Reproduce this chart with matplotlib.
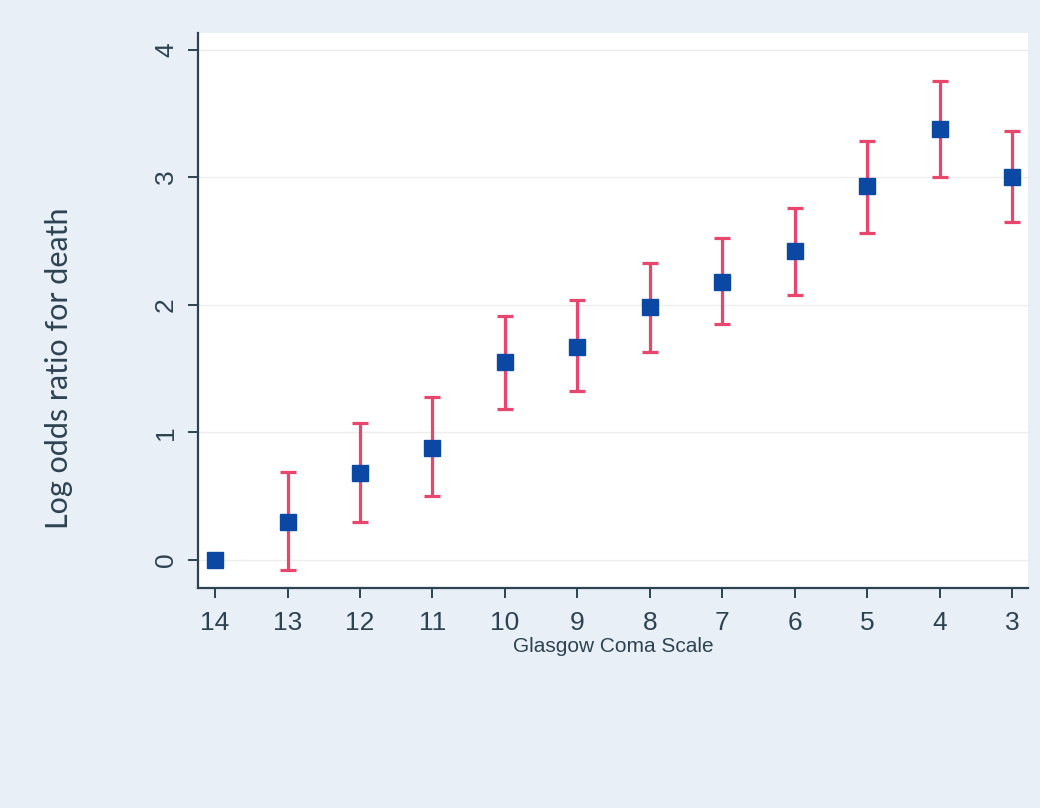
import matplotlib
matplotlib.use("Agg")
import matplotlib.pyplot as plt
import numpy as np

# Glasgow Coma Scale categories (reference level 14 first)
gcs = [14, 13, 12, 11, 10, 9, 8, 7, 6, 5, 4, 3]
log_or = [0.00, 0.30, 0.68, 0.88, 1.55, 1.67, 1.98, 2.18, 2.42, 2.93, 3.38, 3.00]
ci_low = [np.nan, -0.08, 0.30, 0.50, 1.18, 1.32, 1.63, 1.85, 2.08, 2.56, 3.00, 2.65]
ci_high = [np.nan, 0.69, 1.07, 1.28, 1.91, 2.04, 2.33, 2.52, 2.76, 3.28, 3.75, 3.36]
y_ticks = [0, 1, 2, 3, 4]

ink = "#2d4352"
bg = "#e9eff6"

fig = plt.figure(figsize=(10.4, 8.08), dpi=100, facecolor=bg)
ax = fig.add_axes([0.1904, 0.2723, 0.7981, 0.6869], facecolor="white")

x = np.array(gcs, dtype=float)
est = np.array(log_or)
lo = np.array(ci_low)
hi = np.array(ci_high)
has_ci = ~np.isnan(lo)

ax.errorbar(x[has_ci], est[has_ci],
            yerr=[est[has_ci] - lo[has_ci], hi[has_ci] - est[has_ci]],
            fmt="none", ecolor="#e8466c", elinewidth=2.3, capsize=5.5,
            capthick=2.3, zorder=2)
ax.plot(x, est, linestyle="none", marker="s", markersize=12,
        color="#0a48a3", markeredgecolor="#0a48a3", zorder=3)

ax.set_xlim(14.235, 2.78)
ax.set_ylim(-0.22, 4.13)
ax.set_xticks(gcs)
ax.set_xticklabels([str(g) for g in gcs])
ax.set_yticks(y_ticks)
ax.set_yticklabels([str(t) for t in y_ticks], rotation=90, va="center")

for t in y_ticks:
    ax.axhline(t, color="#ededed", linewidth=1.0, zorder=0)

for side in ("top", "right"):
    ax.spines[side].set_visible(False)
for side in ("left", "bottom"):
    ax.spines[side].set_color(ink)
    ax.spines[side].set_linewidth(1.6)

ax.tick_params(axis="both", colors=ink, length=7.5, width=1.4,
               labelsize=19)
ax.tick_params(axis="x", pad=9)
ax.tick_params(axis="y", pad=7)
for lab in ax.get_xticklabels() + ax.get_yticklabels():
    lab.set_family(["Liberation Sans", "DejaVu Sans"])

ax.set_xlabel("Glasgow Coma Scale", fontsize=15, color=ink,
              family=["Liberation Sans Narrow", "Liberation Sans", "DejaVu Sans"])
ax.xaxis.set_label_coords(0.5, -0.088)
ax.set_ylabel("Log odds ratio for death", fontsize=22, color=ink,
              family=["Lato", "Open Sans", "DejaVu Sans"])
ax.yaxis.set_label_coords(-0.151, 0.396)

fig.savefig("out.png", dpi=100, facecolor=bg)
